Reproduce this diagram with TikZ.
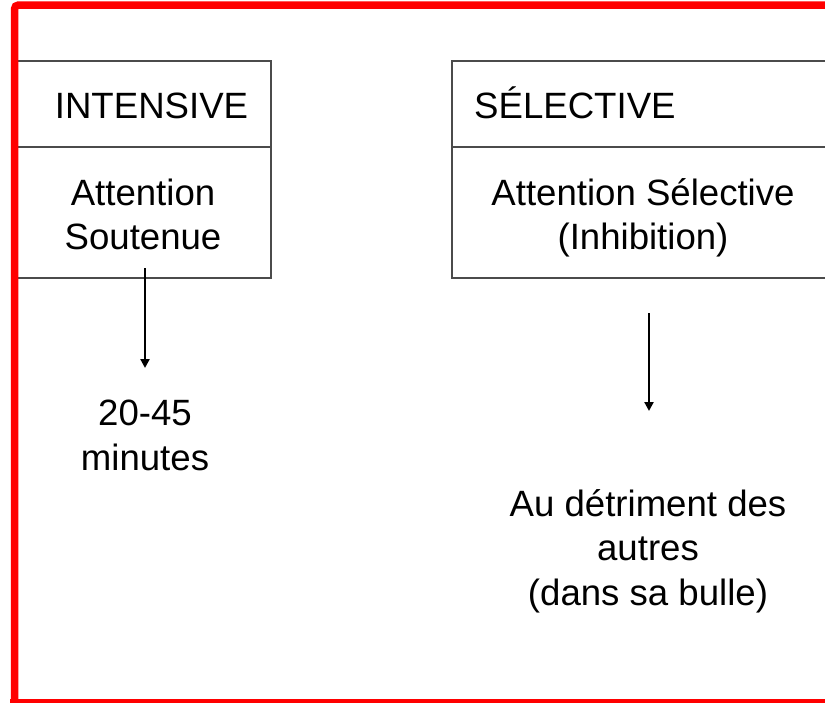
\documentclass[tikz,border=0pt]{standalone}
\usepackage{fontspec}
\setmainfont{Liberation Sans}
\usetikzlibrary{arrows.meta}
\definecolor{framered}{RGB}{255,0,0}
\definecolor{boxgray}{RGB}{75,75,75}
\begin{document}
\begin{tikzpicture}[x=1pt,y=-1pt,
  boxline/.style={draw=boxgray,line width=2.2pt},
  frameline/.style={draw=framered,line width=7.5pt,rounded corners=4pt},
  txt/.style={inner sep=0pt,font=\fontsize{36.6}{44.5}\selectfont,align=center,anchor=base},
  arr/.style={draw=black,line width=2.2pt,-{Triangle[length=9pt,width=9pt]}}]
\useasboundingbox (0,0) rectangle (825,702);
\clip (0,0) rectangle (825,702);
% two category boxes, each with a header row
\draw[boxline] (14,61) rectangle (271,278);
\draw[boxline] (14,147) -- (271,147);
\draw[boxline] (452,61) rectangle (845,278);
\draw[boxline] (452,147) -- (845,147);
% headers
\node[txt] (intensive) at (151.5,118) {INTENSIVE};
\node[txt,anchor=base west] (selective) at (474,118) {SÉLECTIVE};
% box contents (anchored on the baseline of the last line)
\node[txt] (soutenue) at (143,249.5) {Attention\\Soutenue};
\node[txt] (inhibition) at (643,249.5) {Attention Sélective\\(Inhibition)};
% outcomes
\node[txt] (duree) at (145,470) {20-45\\minutes};
\node[txt] (bulle) at (648,605) {Au détriment des\\autres\\(dans sa bulle)};
% arrows
\coordinate (a1s) at (145,268);
\coordinate (a1e) at (145,368);
\coordinate (a2s) at (649,313);
\coordinate (a2e) at (649,411);
\draw[arr] (a1s) -- (a1e);
\draw[arr] (a2s) -- (a2e);
% outer red frame
\draw[frameline] (14.5,702.5) -- (14.5,5) -- (840,5);
\draw[framered,line width=7pt] (10,702) -- (840,702);
\end{tikzpicture}
\end{document}
